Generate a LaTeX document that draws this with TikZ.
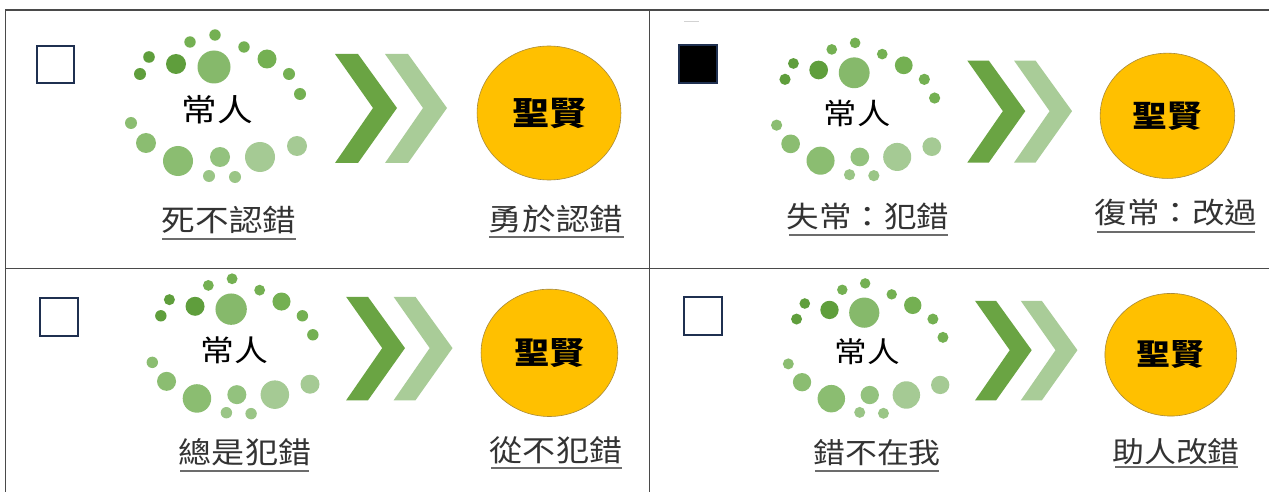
\documentclass[tikz,border=0pt]{standalone}
\usepackage{fontspec}
\newfontfamily\cjk{Noto Sans CJK TC}
\usetikzlibrary{shapes.geometric}
\definecolor{gdark}{HTML}{5F9E3C}
\definecolor{gmid}{HTML}{74B052}
\definecolor{gbig}{HTML}{86B96B}
\definecolor{gsoft}{HTML}{8BBD71}
\definecolor{gpale}{HTML}{93C27E}
\definecolor{glight}{HTML}{A5CA94}
\definecolor{gsmall}{HTML}{9AC586}
\definecolor{chevA}{HTML}{6AA443}
\definecolor{chevB}{HTML}{A9CC98}
\definecolor{sagefill}{HTML}{FFC000}
\definecolor{sageline}{HTML}{A88A3A}
\definecolor{boxline}{HTML}{1F3050}
\definecolor{frameline}{HTML}{4A4A4A}
\definecolor{labeltext}{HTML}{333333}
\tikzset{
  frame/.style={draw=frameline,line width=1.4pt},
  checkbox/.style={draw=boxline,line width=2.2pt},
  chevdark/.style={fill=chevA},
  chevlight/.style={fill=chevB},
  sage/.style={ellipse,fill=sagefill,draw=sageline,line width=0.6pt,minimum width=128.5,minimum height=134,inner sep=0pt,
    font=\cjk\bfseries\fontsize{33}{35}\selectfont,xscale=1.12,text=black},
  common/.style={font=\cjk\fontsize{31}{33}\selectfont,xscale=1.15,text=black,inner sep=0pt},
  lbl/.style={font=\cjk\fontsize{#1}{#1}\selectfont,xscale=1.12,text=labeltext,inner sep=0pt},
  uline/.style={draw=gray!85!black,line width=1.8pt},
}
\newcommand{\mycluster}[1]{%
  \fill[gmid] (-2,-75) circle (5.7);
  \fill[gmid] (-27,-68) circle (5.7);
  \fill[gmid] (27,-63) circle (5.7);
  \fill[gdark] (-68,-53) circle (5.8);
  \fill[gdark] (-41,-46) circle (10);
  \fill[gbig] (-3,-43) circle (16.5);
  \fill[gmid] (50,-51) circle (9.5);
  \fill[gdark] (-77,-36) circle (6);
  \fill[gmid] (72,-36) circle (6);
  \fill[gmid] (83,-16) circle (6);
  \fill[gsoft] (-86,13) circle (6);
  \fill[gsoft] (-71,33) circle (10);
  \fill[gsoft] (-39,51) circle (15);
  \fill[gpale] (3,47) circle (10);
  \fill[glight] (43,47) circle (15);
  \fill[glight] (80,36) circle (10);
  \fill[gsmall] (-8,66) circle (6);
  \fill[gsmall] (18,67) circle (6);
  \node[common] (#1c) at (0,0) {常人};
  \fill[chevdark] (118,-56) -- (141,-56) -- (180,-2) -- (141,53) -- (118,53) -- (156,-2) -- cycle;
  \fill[chevlight] (168,-56) -- (191,-56) -- (230,-2) -- (191,53) -- (168,53) -- (206,-2) -- cycle;
  \node[sage] (#1s) at (332,3) {聖賢};
}
\begin{document}
\begin{tikzpicture}[x=1pt,y=-1pt]
\useasboundingbox (0,0) rectangle (1269,492);
\fill[white] (0,0) rectangle (1269,492);
% frame
\draw[frame] (5.5,492) -- (5.5,10) -- (1269,10);
\draw[frame] (649.3,10) -- (649.3,492);
\draw[frame] (5.5,268.5) -- (1269,268.5);
% checkboxes
\draw[checkbox] (37.2,46.2) rectangle (73.8,83.2);
\draw[checkbox,fill=black] (679.2,45.2) rectangle (716.8,82.8);
\draw[checkbox] (40.2,298.2) rectangle (77.8,335.8);
\draw[checkbox] (684.2,297.2) rectangle (721.8,334.8);
\draw[gray!35,line width=0.8pt] (684,21) -- (699,21);
% clusters
\begin{scope}[shift={(217,110)},scale=1,transform shape]
  \mycluster{tl}
\end{scope}
\begin{scope}[shift={(857,113)},scale=0.935,transform shape]
  \mycluster{tr}
\end{scope}
\begin{scope}[shift={(234,350)},scale=0.95,transform shape]
  \mycluster{bl}
\end{scope}
\begin{scope}[shift={(867,352)},scale=0.915,transform shape]
  \mycluster{br}
\end{scope}
% labels
\node[lbl=30] (tla) at (229,219.5) {死不認錯};
\draw[uline] (162,239) -- (296,239);
\node[lbl=30] (tlb) at (556,219) {勇於認錯};
\draw[uline] (489,237) -- (624,237);
\node[lbl=29] (tra) at (868,216) {失常：犯錯};
\draw[uline] (789,235) -- (948,235);
\node[lbl=29] (trb) at (1176,213) {復常：改過};
\draw[uline] (1097,232) -- (1255,232);
\node[lbl=29.5] (bla) at (245,452) {總是犯錯};
\draw[uline] (180,471) -- (309,471);
\node[lbl=29.5] (blb) at (556,450) {從不犯錯};
\draw[uline] (491,468) -- (622,468);
\node[lbl=28.5] (bra) at (877,453) {錯不在我};
\draw[uline] (815,471) -- (939,471);
\node[lbl=28.5] (brb) at (1176,452) {助人改錯};
\draw[uline] (1115,467) -- (1238,467);
\end{tikzpicture}
\end{document}
